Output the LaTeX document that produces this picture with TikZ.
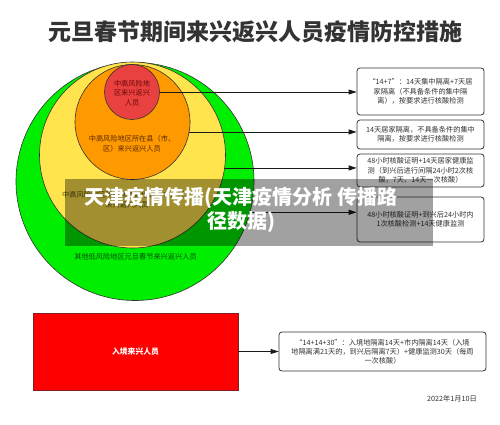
\documentclass[tikz,border=0pt]{standalone}
\usepackage{fontspec}
\setmainfont{Noto Sans CJK SC}
\usetikzlibrary{arrows.meta}
\definecolor{cgreen}{HTML}{00EE00}
\definecolor{cyellow}{HTML}{FFE44D}
\definecolor{corange}{HTML}{FF9900}
\definecolor{cred}{HTML}{E94040}
\definecolor{txt}{HTML}{333333}
\definecolor{redtxt}{HTML}{6A0808}
\definecolor{orgtxt}{HTML}{5A2800}
\definecolor{ylwtxt}{HTML}{5A4A00}
\definecolor{grntxt}{HTML}{0A4A0A}
\definecolor{rectborder}{HTML}{7A2020}
\begin{document}
\begin{tikzpicture}[x=1pt,y=-1pt,
  ring/.style={circle,draw=black!80,line width=0.6pt,inner sep=0pt,outer sep=0pt},
  small/.style={font=\fontsize{7.2}{9.6}\selectfont,align=center,inner sep=0pt},
  infobox/.style={draw=txt,line width=0.8pt,rounded corners=3pt,fill=white,inner sep=0pt,
    text=txt,font=\fontsize{7.2}{9.2}\selectfont,align=center,minimum width=127pt},
  arr/.style={draw=black!90,line width=0.8pt,-{Triangle[length=8pt,width=5pt]}}]
\useasboundingbox (0,0) rectangle (500,425);
\fill[white] (0,0) rectangle (500,425);

\node[font=\fontsize{23}{26}\selectfont\bfseries,text=txt,inner sep=0pt] (title) at (255,32) {元旦春节期间来兴返兴人员疫情防控措施};

% nested circles
\node[ring,fill=cgreen,minimum size=238pt] (green) at (135,181.5) {};
\node[ring,fill=cyellow,minimum size=186pt] (yellow) at (132.5,155) {};
\node[ring,fill=corange,minimum size=115pt] (orange) at (132.5,122) {};
\node[ring,fill=cred,minimum size=55pt] (red) at (132,92) {};

\node[small,text=redtxt] (redt) at (132,93) {中高风险地\\区来兴返兴\\人员};
\node[small,text=orgtxt] (orgt) at (132,143.5) {中高风险地区所在县（市、\\区）来兴返兴人员};
\node[small,text=ylwtxt] (ylwt) at (127,200) {中高风险地区所在地市其他县（市、区）\\来兴返兴人员};
\node[small,text=grntxt] (grnt) at (135.5,257) {其他低风险地区元旦春节来兴返兴人员};

% boxes
\node[infobox,minimum height=47pt] (b1) at (420.5,91.5) {“14+7”：14天集中隔离+7天居\\家隔离（不具备条件的集中隔\\离），按要求进行核酸检测};
\node[infobox,minimum height=29pt] (b2) at (420.5,134.5) {14天居家隔离，不具备条件的集中\\隔离，按要求进行核酸检测};
\node[infobox,minimum height=33pt] (b3) at (420.5,170.5) {48小时核酸证明+14天居家健康监\\测（到兴后进行间隔24小时2次核\\酸，7天、14天一次核酸）};
\node[infobox,minimum height=45pt] (b4) at (420.5,219.5) {48小时核酸证明+到兴后24小时内\\1次核酸检测+14天健康监测};

\draw[arr] (red.east) -- (red.east -| b1.west);
\draw[arr] (orange.-10) -- (orange.-10 -| b2.west);
\draw[arr] (yellow.-8.7) -- (yellow.-8.7 -| b3.west);
\draw[arr] (green.-15.8) -- (green.-15.8 -| b4.west);

% entry
\node[fill=red,draw=rectborder,line width=0.8pt,minimum width=205pt,minimum height=77pt,inner sep=0pt,
  text=white,font=\fontsize{7.8}{9}\selectfont\bfseries] (entry) at (135.5,351.5) {入境来兴人员};
\node[infobox,minimum width=207pt,minimum height=39pt] (b5) at (382.5,351.5) {“14+14+30”：入境地隔离14天+市内隔离14天（入境\\地隔离满21天的，到兴后隔离7天）+健康监测30天（每周\\一次核酸）};
\draw[arr] (entry.east) -- (b5.west);

\node[small,text=txt,anchor=east] (date) at (477,399) {2022年1月10日};

% watermark band
\node[fill=black,fill opacity=0.37,minimum width=368pt,minimum height=67pt,inner sep=0pt] (band) at (249,212.5) {};
\node[text=white,font=\fontsize{20}{24}\selectfont\bfseries,align=center,inner sep=0pt] (wm) at (241,210) {天津疫情传播(天津疫情分析 传播路\\径数据)};
\end{tikzpicture}
\end{document}
